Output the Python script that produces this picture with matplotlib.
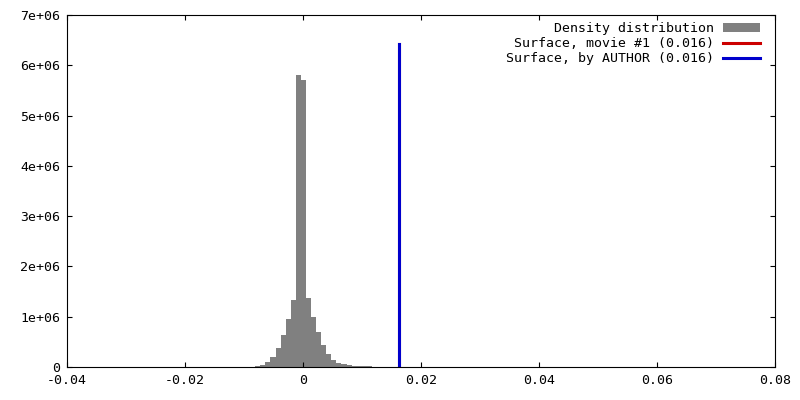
import matplotlib
matplotlib.use("Agg")
import matplotlib.pyplot as plt
from matplotlib.patches import Patch
from matplotlib.lines import Line2D

# histogram of the density distribution (bin start, width, counts in 1e6)
bin_start = -0.0081
bin_width = 0.00086
counts = [0.01, 0.03, 0.09, 0.20, 0.38, 0.64, 0.96, 1.34, 5.80, 5.70,
          1.38, 1.00, 0.70, 0.44, 0.26, 0.14, 0.07, 0.05, 0.03, 0.018,
          0.018, 0.018, 0.018]

# surface positions
surface_movie = 0.0162
surface_author = 0.0162
surface_height = 6.42e6

labels = ["Density distribution",
          "Surface, movie #1 (0.016)",
          "Surface, by AUTHOR (0.016)"]

xticks = [-0.04, -0.02, 0, 0.02, 0.04, 0.06, 0.08]
xticklabels = ["-0.04", "-0.02", "0", "0.02", "0.04", "0.06", "0.08"]
yticks = [0, 1e6, 2e6, 3e6, 4e6, 5e6, 6e6, 7e6]
yticklabels = ["0", "1e+06", "2e+06", "3e+06", "4e+06", "5e+06", "6e+06", "7e+06"]

plt.rcParams['font.family'] = ['DejaVu Sans Mono']
plt.rcParams['font.size'] = 9.5

fig = plt.figure(figsize=(8, 4), dpi=100)
ax = fig.add_axes([67 / 800, 33 / 400, 708 / 800, 352 / 400])

lefts = [bin_start + i * bin_width for i in range(len(counts))]
ax.bar(lefts, [c * 1e6 for c in counts], width=bin_width, align="edge",
       color="#808080", linewidth=0)

ax.plot([surface_movie, surface_movie], [0, surface_height], color="#cc0000", lw=2.2)
ax.plot([surface_author, surface_author], [0, surface_height], color="#0000cc", lw=2.2)

ax.set_xlim(-0.04, 0.08)
ax.set_ylim(0, 7e6)
ax.set_xticks(xticks)
ax.set_xticklabels(xticklabels)
ax.set_yticks(yticks)
ax.set_yticklabels(yticklabels)
ax.tick_params(direction="in", length=3.5, width=0.8, top=True, right=True, pad=5)
for s in ax.spines.values():
    s.set_linewidth(0.8)

handles = [Patch(facecolor="#808080", edgecolor="none"),
           Line2D([], [], color="#cc0000", lw=2.2),
           Line2D([], [], color="#0000cc", lw=2.2)]
ax.legend(handles, labels, loc="upper right", frameon=False, markerfirst=False,
          handlelength=2.8, handleheight=0.6, handletextpad=0.7, labelspacing=0.15,
          borderaxespad=0.3, bbox_to_anchor=(0.992, 1.006))

fig.savefig("out.png", dpi=100)
